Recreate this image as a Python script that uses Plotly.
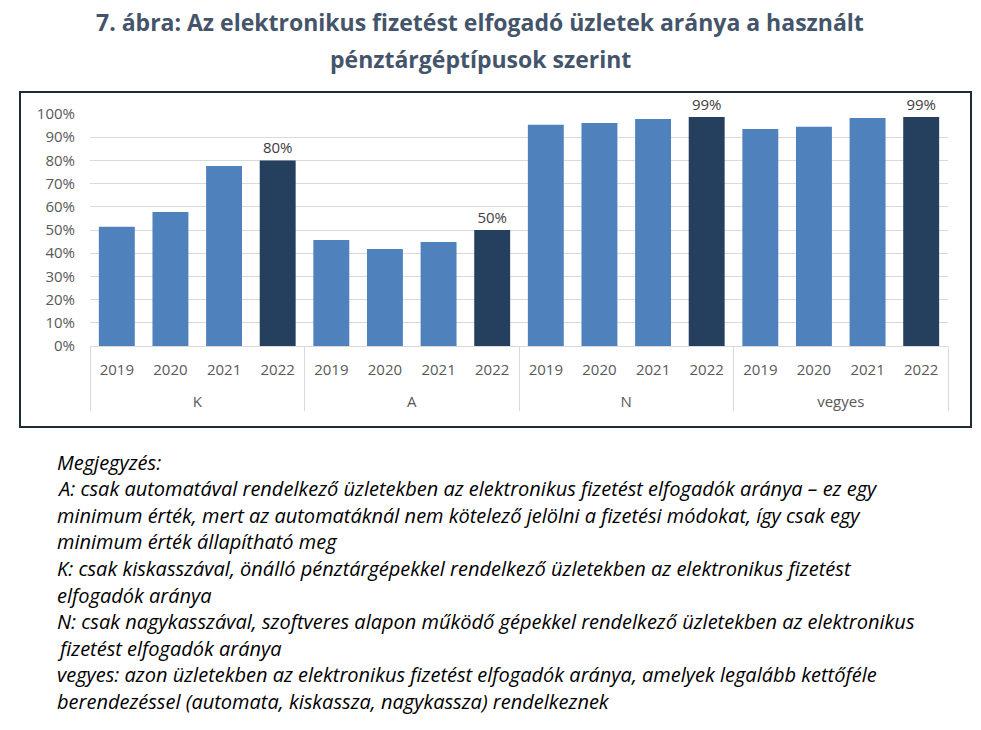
import plotly.graph_objects as go

groups = ["K", "A", "N", "vegyes"]
years = ["2019", "2020", "2021", "2022"]
values = {
    "K": [0.514, 0.578, 0.776, 0.80],
    "A": [0.457, 0.418, 0.448, 0.50],
    "N": [0.954, 0.961, 0.978, 0.987],
    "vegyes": [0.935, 0.945, 0.983, 0.987],
}
label_texts = {"K": "80%", "A": "50%", "N": "99%", "vegyes": "99%"}

title_lines = [
    "7. ábra: Az elektronikus fizetést elfogadó üzletek aránya a használt",
    "pénztárgéptípusok szerint",
]
note_lines = [
    "Megjegyzés:",
    "A: csak automatával rendelkező üzletekben az elektronikus fizetést elfogadók aránya – ez egy",
    "minimum érték, mert az automatáknál nem kötelező jelölni a fizetési módokat, így csak egy",
    "minimum érték állapítható meg",
    "K: csak kiskasszával, önálló pénztárgépekkel rendelkező üzletekben az elektronikus fizetést",
    "elfogadók aránya",
    "N: csak nagykasszával, szoftveres alapon működő gépekkel rendelkező üzletekben az elektronikus",
    "fizetést elfogadók aránya",
    "vegyes: azon üzletekben az elektronikus fizetést elfogadók aránya, amelyek legalább kettőféle",
    "berendezéssel (automata, kiskassza, nagykassza) rendelkeznek",
]

W, H = 981, 730
L, R, T, B = 90, 948, 114, 346  # plot area pixels

def px(x):
    return (x - L) / (R - L)

def py(y):
    return (B - y) / (B - T)

xg, xy, yv, txt, cols = [], [], [], [], []
for g in groups:
    for i, yr in enumerate(years):
        xg.append("<br>" + g)
        xy.append(yr)
        yv.append(values[g][i])
        last = i == len(years) - 1
        txt.append(label_texts[g] if last else "")
        cols.append("#253f5f" if last else "#4f81bd")

fig = go.Figure()
fig.add_trace(go.Bar(
    x=[xg, xy], y=yv, text=txt, textposition="outside",
    textfont=dict(family="Open Sans", size=15, color="#404040"),
    marker=dict(color=cols, line=dict(width=0)),
    cliponaxis=False, hoverinfo="skip",
))

annotations = []
for i, line in enumerate(title_lines):
    annotations.append(dict(
        text="<b>" + line + "</b>", xref="paper", yref="paper",
        x=px(480), y=py([22, 59][i]), xanchor="center", yanchor="middle",
        showarrow=False, font=dict(family="Open Sans", size=23, color="#44546a"),
    ))
for i, line in enumerate(note_lines):
    annotations.append(dict(
        text="<i>" + line + "</i>", xref="paper", yref="paper",
        x=px(55), y=py(462 + i * 26.6), xanchor="left", yanchor="middle",
        showarrow=False, font=dict(family="Open Sans", size=20, color="#000000"),
    ))

fig.update_layout(
    width=W, height=H,
    margin=dict(l=L, r=W - R, t=T, b=H - B),
    paper_bgcolor="white", plot_bgcolor="white",
    bargap=0.33, showlegend=False,
    annotations=annotations,
    shapes=[dict(type="rect", xref="paper", yref="paper",
                 x0=px(20), x1=px(971), y0=py(427), y1=py(92),
                 line=dict(color="#1c2b39", width=2), fillcolor="rgba(0,0,0,0)")],
    font=dict(family="Open Sans", color="#595959"),
)
fig.update_yaxes(
    range=[0, 1], dtick=0.1, tickformat=".0%", showgrid=True,
    gridcolor="#d9d9d9", gridwidth=1, zeroline=False,
    tickfont=dict(size=15, color="#595959"), ticklabelstandoff=14,
)
fig.update_xaxes(
    type="multicategory", showline=True, linecolor="#d9d9d9", linewidth=1,
    showdividers=True, dividercolor="#d9d9d9", dividerwidth=1,
    ticks="outside", ticklen=20, tickcolor="rgba(0,0,0,0)",
    ticklabelstandoff=10,
    tickfont=dict(size=15, color="#595959"),
)

fig.write_html("out.html", config={"displayModeBar": False},
               post_script="document.body.style.margin='0px';")
